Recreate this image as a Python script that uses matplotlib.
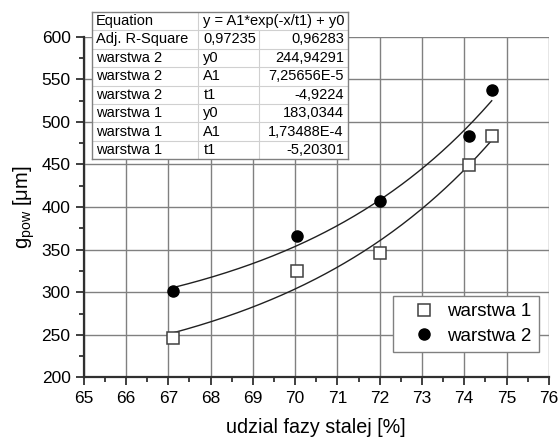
import numpy as np
import matplotlib.pyplot as plt

plt.rcParams['font.family'] = ['Liberation Sans', 'DejaVu Sans']
plt.rcParams['mathtext.fontset'] = 'custom'
plt.rcParams['mathtext.rm'] = 'Liberation Sans'
plt.rcParams['mathtext.it'] = 'Liberation Sans'
plt.rcParams['mathtext.default'] = 'regular'

# measured data
x_w1 = [67.12, 70.04, 72.0, 74.12, 74.65]
y_w1 = [246, 325, 346, 449, 483]
x_w2 = [67.12, 70.04, 72.0, 74.12, 74.65]
y_w2 = [301, 366, 407, 483, 537]

# fit parameters y = A1*exp(-x/t1) + y0 (from the table)
fit_w2 = {'y0': 244.94291, 'A1': 7.25656e-5, 't1': -4.9224}
fit_w1 = {'y0': 183.0344, 'A1': 1.73488e-4, 't1': -5.20301}

table_rows = [
    ['Adj. R-Square', '0,97235', '0,96283'],
    ['warstwa 2', 'y0', '244,94291'],
    ['warstwa 2', 'A1', '7,25656E-5'],
    ['warstwa 2', 't1', '-4,9224'],
    ['warstwa 1', 'y0', '183,0344'],
    ['warstwa 1', 'A1', '1,73488E-4'],
    ['warstwa 1', 't1', '-5,20301'],
]

fig = plt.figure(figsize=(5.6, 4.42), dpi=100)
ax = fig.add_axes([0.1495, 0.146, 0.8305, 0.771])

ax.set_xlim(65, 76)
ax.set_ylim(200, 600)
ax.set_xticks(np.arange(65, 77, 1))
ax.set_xticks(np.arange(65.5, 76, 1), minor=True)
ax.set_yticks(np.arange(200, 601, 50))
ax.set_yticks(np.arange(225, 600, 50), minor=True)
ax.grid(True, which='major', color='#808080', lw=1.0)
ax.set_axisbelow(True)

for s in ['top', 'right']:
    ax.spines[s].set_visible(False)
for s in ['left', 'bottom']:
    ax.spines[s].set_linewidth(1.6)
    ax.spines[s].set_color('#303030')
ax.tick_params(which='major', direction='out', length=6, width=1.3,
               labelsize=12.5, color='#303030')
ax.tick_params(which='minor', direction='out', length=3.5, width=1.3,
               color='#303030')

def fit(p, x):
    return p['A1'] * np.exp(-x / p['t1']) + p['y0']

xs = np.linspace(67.12, 74.65, 200)
ax.plot(xs, fit(fit_w2, xs), color='#202020', lw=1.0)
ax.plot(xs, fit(fit_w1, xs), color='#202020', lw=1.0)

ax.plot(x_w1, y_w1, 's', ms=8.5, mfc='white', mec='#404040', mew=1.1,
        label='warstwa 1', zorder=3)
ax.plot(x_w2, y_w2, 'o', ms=8, color='black', label='warstwa 2', zorder=3)

ax.set_xlabel('udzial fazy stalej [%]', fontsize=14.2, labelpad=9)
ax.set_ylabel(r'g$_{\mathrm{pow}}$ [μm]', fontsize=14.5, labelpad=3)

leg = ax.legend(loc='lower right', bbox_to_anchor=(0.9785, 0.074),
                borderaxespad=0, fontsize=13.5, fancybox=False,
                edgecolor='#808080', framealpha=1, handletextpad=-0.1,
                borderpad=0.4, labelspacing=0.4, handlelength=2.6)
leg.get_frame().set_linewidth(1.0)

# parameter table drawn in its own axes
tax = fig.add_axes([0.1638, 0.6396, 0.4572, 0.3339])
tax.set_xlim(0, 256)
tax.set_ylim(8, 0)
tax.set_facecolor('white')
tax.set_xticks([])
tax.set_yticks([])
for s in tax.spines.values():
    s.set_color('#808080')
    s.set_linewidth(1.0)

c1, c2 = 106.6, 167.6
for r in range(1, 8):
    tax.axhline(r, color='#d0d0d0', lw=0.8)
tax.plot([c1, c1], [0, 8], color='#d0d0d0', lw=0.8)
tax.plot([c2, c2], [1, 8], color='#d0d0d0', lw=0.8)

fs = 10.5
tax.text(4, 0.5, 'Equation', va='center', ha='left', fontsize=fs)
tax.text(c1 + 5, 0.5, 'y = A1*exp(-x/t1) + y0', va='center', ha='left',
         fontsize=fs)
for i, row in enumerate(table_rows):
    yy = i + 1.5
    tax.text(4, yy, row[0], va='center', ha='left', fontsize=fs)
    tax.text(c1 + 5, yy, row[1], va='center', ha='left', fontsize=fs)
    tax.text(252, yy, row[2], va='center', ha='right', fontsize=fs)

fig.savefig('out.png', dpi=100)
